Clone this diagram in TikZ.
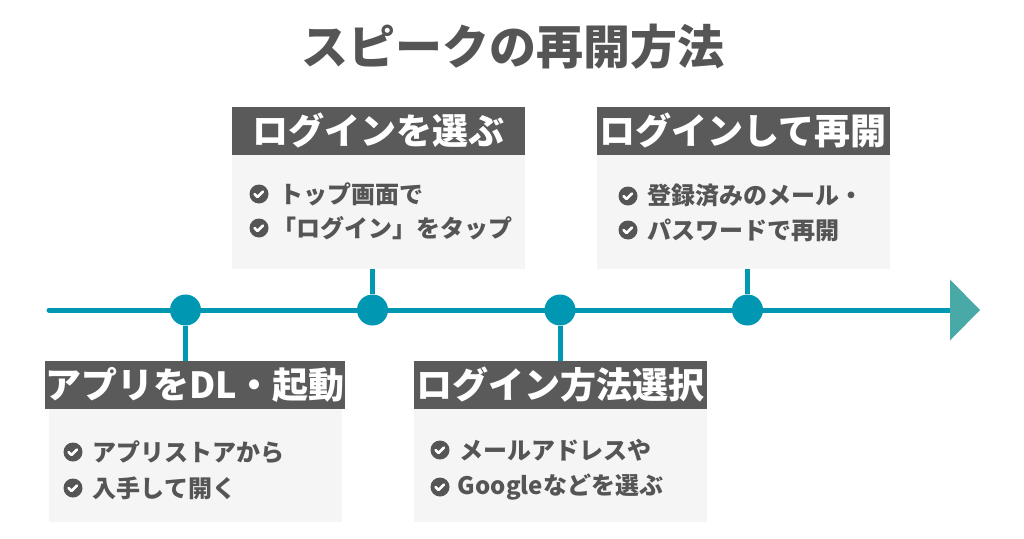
\documentclass[tikz,border=0pt]{standalone}
\usepackage{fontspec}
\setmainfont{Noto Sans CJK JP}
\usetikzlibrary{positioning,calc}
\definecolor{linecol}{HTML}{0097B2}
\definecolor{tipcol}{HTML}{48A9A6}
\definecolor{headcol}{HTML}{5A5A5A}
\definecolor{bodycol}{HTML}{F5F5F5}
\definecolor{textcol}{HTML}{555555}

\begin{document}
\begin{tikzpicture}[x=1pt, y=-1pt, font=\bfseries,
		head/.style={rectangle, fill=headcol, text=white, inner sep=0pt, minimum width=293pt, minimum height=48pt,
			font=\fontsize{36}{40}\selectfont\bfseries},
		body/.style={rectangle, fill=bodycol, inner sep=0pt, minimum width=293pt, minimum height=113pt},
		dot/.style={circle, fill=linecol, inner sep=0pt, minimum size=31pt},
		stem/.style={linecol, line width=5pt},
		item/.style={anchor=west, inner sep=0pt, text=textcol, font=\fontsize{24}{28}\selectfont\bfseries},
		chk/.style={circle, fill=textcol, inner sep=0pt, minimum size=19pt, path picture={
			\draw[white, line width=2.5pt, line cap=round, line join=round]
				($(path picture bounding box.center)+(-4.5pt,0pt)$) -- ++(3pt,-3pt) -- ++(5.5pt,5.5pt);}}]
		\useasboundingbox (0,0) rectangle (1024,538);
		% title
		\node[text=textcol, font=\fontsize{47}{52}\selectfont\bfseries] (title) at (513,47) {スピークの再開方法};
		% time line and arrow head
		\coordinate (start) at (49,310);
		\coordinate (end) at (950,310);
		\draw[linecol, line width=5pt, line cap=round] (start) -- (end);
		\fill[tipcol] (950,279.5) -- (980,310) -- (950,340.5) -- cycle;
		% boxes
		\node[head] (h1) at (195,385) {アプリをDL・起動};
		\node[body, below=0pt of h1] (b1) {};
		\node[head] (h2) at (378,130.5) {ログインを選ぶ};
		\node[body, minimum height=114pt, below=0pt of h2] (b2) {};
		\node[head] (h3) at (560,385) {ログイン方法選択};
		\node[body, below=0pt of h3] (b3) {};
		\node[head] (h4) at (743,130.5) {ログインして再開};
		\node[body, minimum height=114pt, below=0pt of h4] (b4) {};
		% dots and stems
		\node[dot] (d1) at (185.5,310) {};
		\node[dot] (d2) at (372.5,310) {};
		\node[dot] (d3) at (560,310) {};
		\node[dot] (d4) at (747.5,310) {};
		\draw[stem] (d1) -- (h1.north -| d1);
		\draw[stem] (d2) -- (b2.south -| d2);
		\draw[stem] (d3) -- (h3.north -| d3);
		\draw[stem] (d4) -- (b4.south -| d4);
		% check lists
		\node[chk] (c11) at (73,452) {};
		\node[item, right=10pt of c11] (t11) {アプリストアから};
		\node[chk] (c12) at (73,488) {};
		\node[item, right=10pt of c12] (t12) {入手して開く};
		\node[chk] (c21) at (259,194) {};
		\node[item, right=11pt of c21] (t21) {トップ画面で};
		\node[chk] (c22) at (259,228) {};
		\node[item, right=4pt of c22] (t22) {「ログイン」をタップ};
		\node[chk] (c31) at (440,450) {};
		\node[item, right=10pt of c31] (t31) {メールアドレスや};
		\node[chk] (c32) at (440,487) {};
		\node[item, right=8pt of c32] (t32) {Googleなどを選ぶ};
		\node[chk] (c41) at (628,196) {};
		\node[item, right=10pt of c41] (t41) {登録済みのメール・};
		\node[chk] (c42) at (628,230) {};
		\node[item, right=10pt of c42] (t42) {パスワードで再開};
	\end{tikzpicture}
\end{document}
